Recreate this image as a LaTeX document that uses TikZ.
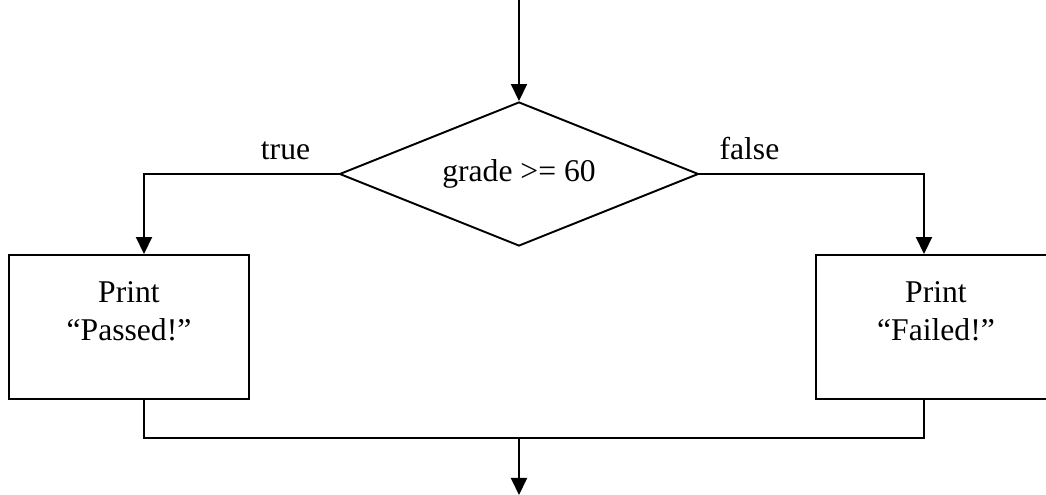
\documentclass[tikz,border=0pt]{standalone}
\usepackage{fontspec}
\setmainfont{Liberation Serif}
\usetikzlibrary{arrows.meta,positioning,shapes.geometric,calc}

\begin{document}
\begin{tikzpicture}[
          every node/.style={font=\fontsize{18}{21.6}\selectfont},
          line width=1.1pt,
          arr/.style={-{Triangle[length=0.34cm,width=0.32cm]}},
          decision/.style={draw,diamond,shape aspect=2.5,inner sep=0pt,
                           minimum width=7.18cm,minimum height=2.88cm},
          printbox/.style={draw,rectangle,align=center,text depth=18.7pt,
                           minimum width=4.8cm,minimum height=2.88cm},
          lbl/.style={anchor=base,inner sep=0pt},
      ]
        \useasboundingbox (0,0) rectangle (20.92,9.9);
        \clip (0,0) rectangle (20.92,9.9);

        \node[decision] (dia) at (10.38,6.42) {grade >= 60};
        \node[printbox] (passed) at (2.58,3.36) {Print\\“Passed!”};
        \node[printbox] (failed) at (18.72,3.36) {Print\\“Failed!”};

        \coordinate (entry) at (10.38,9.9);
        \coordinate (merge) at (10.38,1.14);
        \coordinate (exit) at (10.38,0);

        \node[lbl] (truelbl) at ([xshift=-1.06cm,yshift=0.28cm]dia.west) {true};
        \node[lbl] (falselbl) at ([xshift=1.0cm,yshift=0.28cm]dia.east) {false};

        \draw[arr] (entry) -- (dia.north);
        \draw[arr] (dia.west) -| ([xshift=0.3cm]passed.north);
        \draw[arr] (dia.east) -| ([xshift=-0.24cm]failed.north);
        \draw ([xshift=0.3cm]passed.south) |- (merge) -| ([xshift=-0.24cm]failed.south);
        \draw[arr] (merge) -- (exit);
      \end{tikzpicture}
\end{document}
